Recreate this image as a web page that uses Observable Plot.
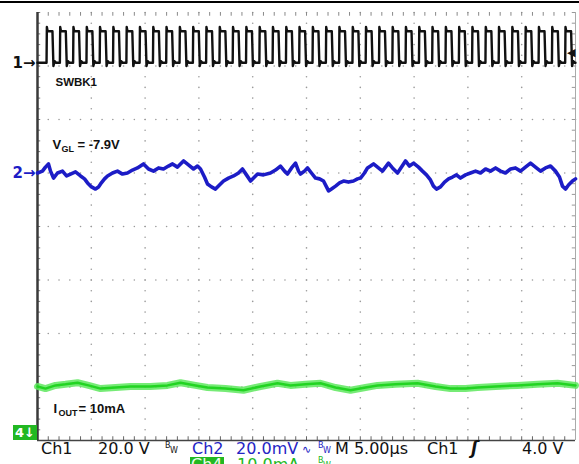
<!DOCTYPE html>
<html><head><meta charset="utf-8">
<script src="https://cdn.jsdelivr.net/npm/d3@7"></script>
<script src="https://cdn.jsdelivr.net/npm/@observablehq/plot@0.6"></script>
<style>
html,body{margin:0;padding:0;background:#fff;overflow:hidden;width:579px;height:464px}
#wrap{position:relative;width:579px;height:464px;overflow:hidden}
#wrap svg{position:absolute;left:0;top:0}
#topbar{position:absolute;left:0;top:1px;width:579px;height:2px;background:#000}
.st{position:absolute;font-family:"DejaVu Sans",sans-serif;font-size:16px;line-height:16px;white-space:pre}
.sm{position:absolute;font-family:"DejaVu Sans",sans-serif;font-size:8px;line-height:8px;white-space:pre}
.blk{color:#111}.blu{color:#2424c4}.grn{color:#22b822}
#ch4box{position:absolute;background:#22b822;color:#fff;font-family:"DejaVu Sans",sans-serif;font-weight:bold;font-size:13px;line-height:15px;text-align:center}
#ch4lab{position:absolute;background:#22b822;color:#eaffea;font-family:"DejaVu Sans",sans-serif;font-size:16px;line-height:16px;padding:0 1px}
</style></head><body>
<div id="wrap"><div id="topbar"></div></div>
<script>
// ---------- settings ----------
const timePerDivUs = 5;            // M 5.00µs
const xDivs = 10, yDivs = 8;
const ch1VoltsPerDiv = 20;         // Ch1 20.0 V
const ch2mVPerDiv = 20;            // Ch2 20.0 mV
const ch4mAPerDiv = 10;            // Ch4 10.0 mA
const ch1OffsetDiv = 3.06;
const ch2OffsetDiv = 1.0;
const ch4OffsetDiv = -4.0;
const triggerLevelV = 4.0;

// ---------- Ch1 (SWBK1) switching waveform ----------
const ch1RiseUs = [0.84,2.08,3.31,4.55,5.78,7.02,8.26,9.49,10.73,11.96,13.20,14.44,15.67,16.91,18.14,19.38,20.62,21.85,23.09,24.32,25.56,26.80,28.03,29.27,30.50,31.74,32.98,34.21,35.45,36.68,37.92,39.16,40.39,41.63,42.86,44.10,45.34,46.57,47.81,49.04];
const ch1FallUs = [1.44,2.68,3.91,5.15,6.38,7.62,8.86,10.09,11.33,12.56,13.80,15.04,16.27,17.51,18.74,19.98,21.22,22.45,23.69,24.92,26.16,27.40,28.63,29.87,31.10,32.34,33.58,34.81,36.05,37.28,38.52,39.76,40.99,42.23,43.46,44.70,45.94,47.17,48.41,49.64];
const ch1LowV = 0, ch1HighV = 11.8, ch1SpikeV = 13.4, ch1UnderV = -1.2;

// ---------- Ch2 (VGL ripple, mV) ----------
const ch2TimeUs = [0,0.46,0.74,1.02,1.21,1.49,1.86,2.32,2.70,3.07,3.53,4.00,4.37,4.65,5.02,5.39,5.67,5.86,6.23,6.51,6.97,7.43,7.90,8.36,8.83,9.29,9.85,10.32,10.78,11.25,11.71,12.17,12.55,13.01,13.57,14.03,14.50,14.87,15.15,15.52,15.80,16.17,16.54,16.91,17.29,17.75,18.22,18.68,19.05,19.42,19.80,20.17,20.45,21.00,21.65,22.12,22.58,22.96,23.23,23.61,23.98,24.26,24.44,24.81,25.09,25.46,25.84,26.21,26.58,26.86,27.05,27.32,27.70,28.07,28.44,28.90,29.37,29.74,30.02,30.39,30.67,30.95,31.23,31.60,32.06,32.34,32.62,32.99,33.46,33.83,34.20,34.57,34.95,35.41,35.78,36.15,36.52,36.80,37.08,37.45,37.83,38.20,38.57,38.94,39.31,39.78,40.24,40.71,41.17,41.64,42.10,42.57,43.03,43.49,43.96,44.42,44.89,45.35,45.82,46.28,46.75,47.21,47.68,48.14,48.51,48.79,49.07,49.35,49.72,50.00];
const ch2RippleMv = [0,0.7,2.2,3.4,0.7,-1.9,0,0.7,-1.1,-0.4,0.4,-1.1,-2.2,-3.7,-5.2,-6.0,-5.2,-4.1,-2.2,-1.1,0,0.7,-0.4,0,1.1,1.9,3.4,1.5,0.7,1.9,1.5,2.6,3.4,2.2,4.5,3.0,1.5,2.6,1.5,-1.5,-4.1,-5.2,-6.0,-4.5,-3.0,-1.9,-1.1,0,1.5,-0.7,-3.0,-1.5,-0.4,-0.7,0,1.1,2.6,0.7,-0.4,1.9,3.7,0.7,-0.4,0.7,1.9,0,-1.9,-2.2,-3.0,-5.2,-6.7,-6.0,-4.9,-3.7,-3.0,-3.4,-3.0,-2.2,-1.9,0,1.9,2.6,3.4,2.2,0.7,2.2,3.7,1.9,0,2.2,4.5,2.6,3.7,2.2,0.7,-0.7,-2.6,-4.9,-6.0,-5.2,-3.4,-2.2,-1.5,-0.7,-1.9,-0.7,0,0.7,0,1.5,0.7,1.9,0.7,0,1.5,1.9,0.7,2.2,3.7,2.2,0.7,1.9,2.6,0.7,-1.5,-4.9,-6.0,-4.5,-3.0,-2.2];

// ---------- Ch4 (IOUT, mA) ----------
const ch4TimeUs = [0,0.74,1.67,2.60,3.72,4.74,5.86,7.25,8.64,10.50,12.08,13.29,14.68,15.80,17.47,19.14,20.72,22.30,23.51,24.91,26.30,27.70,29.09,30.48,31.60,33.27,35.32,36.99,38.38,39.78,40.89,42.57,44.61,46.47,48.33,50.00];
const ch4CurrentMa = [10.1,9.7,10.3,10.5,10.8,10.3,9.7,9.9,10.1,10.1,10.3,10.8,10.3,9.9,9.7,9.4,10.1,10.7,10.3,10.5,10.7,9.9,9.4,9.9,10.3,10.5,10.7,10.1,9.7,9.7,9.9,10.1,10.3,10.5,10.7,10.3];

// ---------- build plotted series (screen divisions) ----------
const ch1Pts = [{t: 0, d: ch1OffsetDiv + ch1LowV / ch1VoltsPerDiv}];
ch1RiseUs.forEach((r, i) => {
  const f = ch1FallUs[i];
  [[r, ch1LowV], [r + 0.03, ch1SpikeV], [r + 0.1, ch1HighV], [f - 0.05, ch1HighV],
   [f + 0.04, ch1UnderV], [f + 0.15, ch1LowV + 0.6], [f + 0.3, ch1LowV]]
    .forEach(([t, v]) => ch1Pts.push({t: Math.min(t, 50), d: ch1OffsetDiv + v / ch1VoltsPerDiv}));
});
ch1Pts.push({t: 50, d: ch1OffsetDiv + ch1LowV / ch1VoltsPerDiv});
const ch2Pts = ch2TimeUs.map((t, i) => ({t, d: ch2OffsetDiv + ch2RippleMv[i] / ch2mVPerDiv}));
const ch4Pts = ch4TimeUs.map((t, i) => ({t, d: ch4OffsetDiv + ch4CurrentMa[i] / ch4mAPerDiv}));

// ---------- graticule ----------
const tMax = timePerDivUs * xDivs;
const xMajor = d3.range(0, tMax + 0.001, timePerDivUs);
const yMajor = d3.range(-yDivs / 2, yDivs / 2 + 0.001, 1);
const xMinor = d3.range(0, tMax + 0.001, timePerDivUs / 5);
const yMinor = d3.range(-yDivs / 2, yDivs / 2 + 0.001, 0.2);
const gridDots = [];
xMajor.slice(1, -1).forEach(x => yMinor.forEach(y => gridDots.push({x, y})));
yMajor.slice(1, -1).forEach(y => xMinor.forEach(x => gridDots.push({x, y})));

const blue = "#1c1cc6", green = "#3ae23a";
const lbl = {fontFamily: "Liberation Sans, Arial, sans-serif", fontWeight: "bold", textAnchor: "start", lineAnchor: "bottom"};
const mk = {dx: -2, textAnchor: "end", fontSize: 15, fontWeight: "bold", fontFamily: "DejaVu Sans"};

const plot = Plot.plot({
  width: 579, height: 442,
  marginLeft: 37, marginRight: 4, marginTop: 12, marginBottom: 2,
  x: {domain: [0, tMax], axis: null},
  y: {domain: [-yDivs / 2, yDivs / 2], axis: null},
  style: {background: "transparent", overflow: "visible"},
  marks: [
    Plot.dot(gridDots, {x: "x", y: "y", r: 0.8, fill: "#9a9a9a", stroke: null}),
    // border ticks
    Plot.ruleY(yMinor, {x1: 0, x2: 0.3, stroke: "#777", strokeWidth: 1}),
    Plot.ruleY(yMinor, {x1: tMax - 0.3, x2: tMax, stroke: "#999", strokeWidth: 1}),
    Plot.ruleX(xMinor, {y1: yDivs / 2, y2: yDivs / 2 - 0.07, stroke: "#888", strokeWidth: 1}),
    Plot.ruleX(xMinor, {y1: -yDivs / 2, y2: -yDivs / 2 + 0.07, stroke: "#666", strokeWidth: 1}),
    Plot.ruleX([tMax], {stroke: "#aaa", strokeWidth: 1}),
    Plot.ruleY([-yDivs / 2], {stroke: "#444", strokeWidth: 1.5}),
    Plot.ruleX([0], {stroke: "#3a3a3a", strokeWidth: 2.5}),
    // traces
    Plot.line(ch4Pts, {x: "t", y: "d", stroke: "#5ee85e", strokeWidth: 7, strokeOpacity: 0.85}),
    Plot.line(ch4Pts, {x: "t", y: "d", stroke: "#22d422", strokeWidth: 2.5}),
    Plot.line(ch2Pts, {x: "t", y: "d", stroke: blue, strokeWidth: 3.6}),
    Plot.line(ch1Pts, {x: "t", y: "d", stroke: "#111", strokeWidth: 2.4}),
    // channel markers
    Plot.text(["1→"], {x: 0, y: ch1OffsetDiv, fill: "#111", ...mk}),
    Plot.text(["2→"], {x: 0, y: ch2OffsetDiv, fill: blue, ...mk}),
    Plot.text(["◀"], {x: tMax, y: ch1OffsetDiv + triggerLevelV / ch1VoltsPerDiv, dx: -1, textAnchor: "end", fill: "#111", fontSize: 11}),
    // annotations
    Plot.text(["SWBK1"], {x: 1.67, y: 2.617, fontSize: 11.5, fill: "#111", ...lbl}),
    Plot.text(["V"], {x: 1.39, y: 1.44, fontSize: 13, fill: "#111", ...lbl}),
    Plot.text(["GL"], {x: 1.39, y: 1.44, dx: 9, dy: 3, fontSize: 9, fill: "#111", ...lbl}),
    Plot.text(["= -7.9V"], {x: 1.39, y: 1.44, dx: 25, fontSize: 13, fill: "#111", ...lbl}),
    Plot.text(["I"], {x: 1.49, y: -3.49, fontSize: 13, fill: "#111", ...lbl}),
    Plot.text(["OUT"], {x: 1.49, y: -3.49, dx: 5, dy: 3, fontSize: 9, fill: "#111", ...lbl}),
    Plot.text(["= 10mA"], {x: 1.49, y: -3.49, dx: 25, fontSize: 13, fill: "#111", ...lbl})
  ]
});
const wrap = document.getElementById("wrap");
wrap.appendChild(plot);

// channel 4 marker box at the bottom-left, placed with the y scale
const yb = plot.scale("y").apply(ch4OffsetDiv);
const box = document.createElement("div");
box.id = "ch4box";
box.textContent = "4↓";
Object.assign(box.style, {left: "13px", top: (yb - 15) + "px", width: "24px", height: "15px"});
wrap.appendChild(box);

// status line (caption below the graticule)
const status = [
  {t: "Ch1", x: 41, c: "blk"}, {t: "20.0 V", x: 98, c: "blk"},
  {t: "Ch2", x: 192, c: "blu"}, {t: "20.0mV", x: 236, c: "blu"},
  {t: "M 5.00µs", x: 335, c: "blk"}, {t: "Ch1", x: 427, c: "blk"}, {t: "4.0 V", x: 522, c: "blk"},
  {t: "10.0mA", x: 237, c: "grn", row: 2}
];
status.forEach(s => {
  const e = document.createElement("span");
  e.className = "st " + s.c; e.textContent = s.t;
  e.style.left = s.x + "px"; e.style.top = (s.row === 2 ? 457 : 441) + "px";
  wrap.appendChild(e);
});
const smalls = [
  {t: "B", x: 165, y: 442, c: "blk"}, {t: "W", x: 170, y: 447, c: "blk"},
  {t: "B", x: 318, y: 442, c: "blu"}, {t: "W", x: 323, y: 447, c: "blu"},
  {t: "B", x: 318, y: 457, c: "grn"}, {t: "W", x: 323, y: 462, c: "grn"}
];
smalls.forEach(s => {
  const e = document.createElement("span");
  e.className = "sm " + s.c; e.textContent = s.t;
  e.style.left = s.x + "px"; e.style.top = s.y + "px";
  wrap.appendChild(e);
});
const wav = document.createElement("span");
wav.className = "st blu"; wav.textContent = "∿";
Object.assign(wav.style, {left: "302px", top: "442px", fontSize: "11px"});
wrap.appendChild(wav);
const edge = document.createElement("span");
edge.className = "st blk"; edge.textContent = "ʃ";
Object.assign(edge.style, {left: "471px", top: "440px", fontWeight: "bold", fontStyle: "italic", fontSize: "17px"});
wrap.appendChild(edge);
const c4 = document.createElement("span");
c4.id = "ch4lab"; c4.textContent = "Ch4";
Object.assign(c4.style, {left: "190px", top: "457px"});
wrap.appendChild(c4);
</script>
</body></html>
